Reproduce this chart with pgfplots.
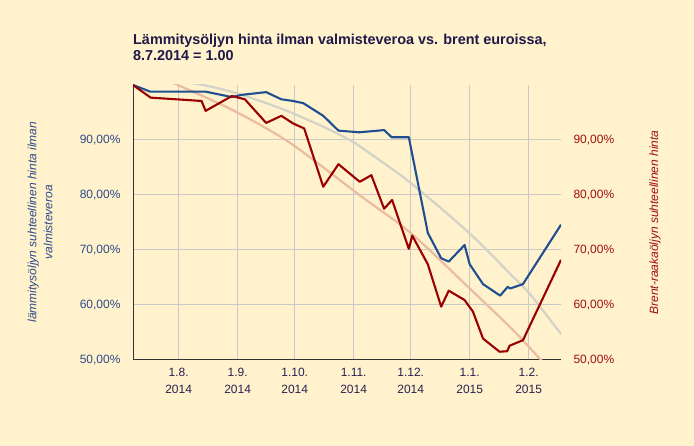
\documentclass[border=0pt]{standalone}
\usepackage{fontspec}
\setmainfont{Liberation Sans}
\usepackage{pgfplots}
\pgfplotsset{compat=1.18}
\definecolor{bg}{HTML}{FFF2CC}
\definecolor{oilblue}{HTML}{1F4E91}
\definecolor{brentred}{HTML}{9A0000}
\definecolor{trendgray}{HTML}{D2D2C6}
\definecolor{trendsalmon}{HTML}{EBBBA2}
\definecolor{gridc}{HTML}{C9C9C9}
\definecolor{ylblue}{HTML}{2E4A8A}
\definecolor{ylred}{HTML}{A01010}
\definecolor{titlec}{HTML}{1F1A4A}
\definecolor{xlab}{HTML}{2A2050}
\newcommand{\tl}{\fontsize{12bp}{16.5bp}\selectfont}
\begin{document}
\begin{tikzpicture}[x=1bp,y=1bp]
\fill[bg] (0,0) rectangle (694,446);
\node[anchor=base west, inner sep=0, text=titlec, font=\fontsize{14.4bp}{16bp}\selectfont\bfseries] at (133,401) {Lämmitysöljyn hinta ilman valmisteveroa vs. brent euroissa,};
\node[anchor=base west, inner sep=0, text=titlec, font=\fontsize{14.4bp}{16bp}\selectfont\bfseries] at (133,385) {8.7.2014 = 1.00};
\begin{axis}[
  at={(133bp,86bp)}, anchor=south west,
  scale only axis, width=428bp, height=275bp,
  xmin=0, xmax=225, ymin=50, ymax=100,
  axis x line*=bottom, axis y line*=left,
  axis line style={draw=black!80, line width=1bp},
  xtick={24,55,85,116,146,177,208},
  xticklabels={1.8.\\2014,1.9.\\2014,1.10.\\2014,1.11.\\2014,1.12.\\2014,1.1.\\2015,1.2.\\2015},
  xticklabel style={align=center, font=\tl, text=xlab, yshift=-5bp},
  ytick={50,60,70,80,90},
  yticklabels={{50,00\%},{60,00\%},{70,00\%},{80,00\%},{90,00\%}},
  yticklabel style={font=\tl, text=ylblue, xshift=-9bp},
  major tick length=0pt,
  xmajorgrids, ymajorgrids,
  grid style={gridc, line width=1bp},
]
\addplot[trendgray, line width=2.2bp, smooth] coordinates {
(20,100.9) (36.9,100) (54.4,98.5) (77.2,95.8) (98.2,92.7) (113.9,90) (124.4,87.6) (146.3,82.1) (177,73.0) (199.6,65.2) (208.4,62.1) (224,55.2) (225,54.8)};
\addplot[trendsalmon, line width=2.2bp, smooth] coordinates {
(10,102.3) (23.6,100) (52,95.5) (82,89.6) (119,80) (146.3,73) (177,63) (199.6,55.5) (214.5,50) (225,46.2)};
\addplot[oilblue, line width=2.1bp, line join=round] coordinates {
(0,100) (9,98.8) (38,98.8) (52,97.8) (57,98.2) (70,98.7) (78,97.4) (84,97.1) (89.5,96.7) (100,94.4) (108,91.7) (119,91.4) (132,91.8) (136,90.5) (145,90.5) (155,73.1) (162,68.5) (166,67.9) (174.3,70.9) (177,67.4) (184,63.8) (193,61.7) (197,63.3) (198.3,63.0) (205,63.8) (225,74.6)};
\addplot[brentred, line width=2.1bp, line join=round] coordinates {
(0,100) (9.3,97.7) (36,97.1) (38.2,95.3) (52,98.0) (58.8,97.4) (70,93.1) (78,94.4) (84.2,93.0) (90,92.1) (100,81.5) (108,85.6) (119.2,82.4) (125.3,83.6) (132,77.5) (136.2,79.1) (145,70.2) (146.8,72.6) (155,67.4) (162,59.7) (166,62.6) (174.3,60.9) (178.7,58.8) (184,53.9) (192.7,51.5) (196.7,51.6) (198,52.6) (205,53.6) (225,68.2)};
\end{axis}
\begin{axis}[
  at={(133bp,86bp)}, anchor=south west,
  scale only axis, width=428bp, height=275bp,
  xmin=0, xmax=225, ymin=50, ymax=100,
  axis x line=none, axis y line*=right,
  axis line style={draw=none},
  ytick={50,60,70,80,90},
  yticklabels={{50,00\%},{60,00\%},{70,00\%},{80,00\%},{90,00\%}},
  yticklabel style={font=\tl, text=ylred, xshift=9bp},
  major tick length=0pt,
]
\end{axis}
\node[rotate=90, align=center, text=ylblue, font=\fontsize{12bp}{16bp}\selectfont\itshape] at (40,224) {lämmitysöljyn suhteellinen hinta ilman\\valmisteveroa};
\node[rotate=90, text=ylred, font=\fontsize{12bp}{16bp}\selectfont\itshape] at (655,223.5) {Brent-raakaöljyn suhteellinen hinta};
\end{tikzpicture}
\end{document}
